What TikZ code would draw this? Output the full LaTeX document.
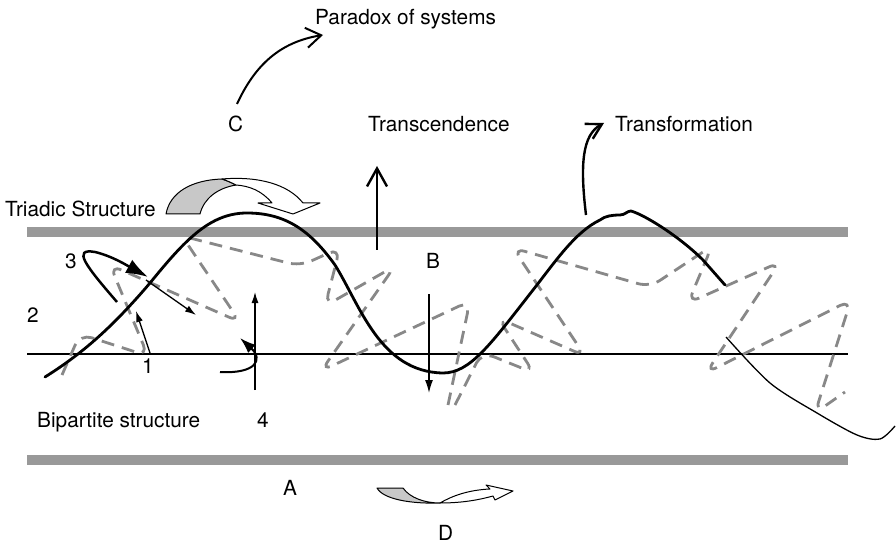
\documentclass[tikz,border=0pt]{standalone}
\usepackage{fontspec}
\setmainfont{TeX Gyre Heros}
\usetikzlibrary{arrows.meta}
\definecolor{barcol}{RGB}{153,153,153}
\definecolor{dashcol}{RGB}{136,136,136}
\definecolor{backcol}{RGB}{200,200,200}
\tikzset{
  every picture/.style={font=\fontsize{20.8}{25}\selectfont},
  lbl/.style={inner sep=0pt,anchor=base west},
  bar/.style={draw=barcol,line width=10pt},
  midline/.style={line width=2.5pt},
  wave/.style={line width=2.8pt,line join=round,line cap=round},
  twist/.style={draw=dashcol,line width=2.8pt,dash pattern=on 13pt off 8pt,rounded corners=12pt},
  nudge/.style={line width=1.3pt,-{Latex[length=11pt,width=7pt]}},
  lift/.style={line width=2.4pt,-{Straight Barb[length=18pt,width=20pt]}},
  ribbon/.style={draw,line width=1pt,line join=round},
}
\begin{document}
\begin{tikzpicture}[x=1pt,y=-1pt]
  \useasboundingbox (0,0) rectangle (896,545);
  % labels
  \node[lbl] (paradox) at (315,25) {Paradox of systems};
  \node[lbl] (c) at (228,132) {C};
  \node[lbl] (transc) at (368,132) {Transcendence};
  \node[lbl] (transf) at (615,132) {Transformation};
  \node[lbl] (triadic) at (5,217) {Triadic Structure};
  \node[lbl] (three) at (65,268) {3};
  \node[lbl] (two) at (27,322) {2};
  \node[lbl] (one) at (142,373) {1};
  \node[lbl] (b) at (426,268) {B};
  \node[lbl] (bipartite) at (37,427) {Bipartite structure};
  \node[lbl] (four) at (257,427) {4};
  \node[lbl] (a) at (283,495) {A};
  \node[lbl] (d) at (438,540) {D};
  % the three levels
  \draw[bar] (27,232) -- (848,232);
  \draw[bar] (27,460) -- (848,460);
  \draw[midline] (27,354) -- (848,354);
  % dashed loops
  \draw[twist] (62,375) -- (80,334) -- (148,356) -- (110,265) -- (240,322)
    -- (182,236) -- (300,266) -- (340,248) -- (325,306)
    -- (395,266) -- (321,371) -- (470,301) -- (448,405);
  \draw[twist] (455,405) -- (482,352) -- (534,373) -- (498,318) -- (585,356)
    -- (513,248) -- (650,287) -- (712,246) -- (688,303)
    -- (780,262) -- (706,373) -- (851,300) -- (815,413) -- (845,392);
  % the wave
  \draw[wave] (45,377) .. controls (80,355) and (110,330) .. (150,283)
    .. controls (185,240) and (210,213) .. (247,213)
    .. controls (285,213) and (310,230) .. (335,265)
    .. controls (360,305) and (380,372) .. (443,373)
    .. controls (470,373) and (490,345) .. (533,290)
    .. controls (555,262) and (575,232) .. (600,220)
    .. controls (605,216) and (612,215) .. (620,215)
    .. controls (625,215) and (627,211) .. (631,211)
    .. controls (645,215) and (680,237) .. (703,260) -- (725,285);
  \draw[line width=1.3pt] plot[smooth] coordinates {(726,337) (770,383) (817,413)
    (857,435) (880,439) (895,426)};
  % arrows
  \coordinate (c-tail) at (237,104);
  \coordinate (c-head) at (323,35);
  \draw[lift,line width=2pt,-{Straight Barb[length=15pt,width=20pt]}] (c-tail)
    .. controls (255,65) and (280,42) .. (c-head);
  \coordinate (up-tail) at (377,250);
  \coordinate (up-head) at (377,166);
  \draw[lift] (up-tail) -- (up-head);
  \coordinate (tf-tail) at (586,215);
  \coordinate (tf-head) at (604,123);
  \draw[lift,-{Straight Barb[length=15pt,width=17pt]}] (tf-tail)
    .. controls (580,165) and (582,135) .. (tf-head);
  \coordinate (three-tail) at (117,302);
  \coordinate (three-head) at (148,277);
  \draw[line width=2.5pt,-{Latex[length=22pt,width=15pt]}] (three-tail)
    .. controls (85,265) and (72,248) .. (95,252) .. controls (112,256) and (128,266) .. (three-head);
  \coordinate (one-tail) at (150,353);
  \coordinate (one-head) at (136,311);
  \draw[nudge] (one-tail) -- (one-head);
  \coordinate (diag-tail) at (146,280);
  \coordinate (diag-head) at (196,315);
  \draw[nudge] (diag-tail) -- (diag-head);
  \coordinate (four-tail) at (255,390);
  \coordinate (four-head) at (255,292);
  \draw[nudge] (four-tail) -- (four-head);
  \coordinate (hook-tail) at (220,372);
  \coordinate (hook-head) at (240,338);
  \draw[line width=2pt,-{Latex[length=16pt,width=11pt]}] (hook-tail)
    .. controls (255,374) and (264,360) .. (hook-head);
  \coordinate (down-tail) at (429,294);
  \coordinate (down-head) at (429,393);
  \draw[nudge,-{Latex[length=13pt,width=8pt]}] (down-tail) -- (down-head);
  % twisted ribbons
  \filldraw[ribbon,fill=backcol] (166,214) .. controls (170,192) and (192,180) .. (222,179)
    .. controls (228,181) and (232,183) .. (236,185) .. controls (218,188) and (204,198) .. (200,214) -- cycle;
  \filldraw[ribbon,fill=white] (222,179) .. controls (258,176) and (288,184) .. (303,203)
    -- (320,203) -- (293,214) -- (258,203) -- (272,203) .. controls (262,191) and (250,186) .. (236,185)
    .. controls (232,183) and (228,181) .. (222,179) -- cycle;
  \filldraw[ribbon,fill=backcol] (377,488) -- (403,488) .. controls (410,498) and (425,503) .. (440,503)
    .. controls (410,504) and (383,499) .. (377,488) -- cycle;
  \filldraw[ribbon,fill=white] (440,503) .. controls (465,503) and (482,499) .. (493,496)
    -- (495,500) -- (513,491) -- (486,485) -- (490,489) .. controls (468,490) and (452,496) .. (440,503) -- cycle;
\end{tikzpicture}
\end{document}
